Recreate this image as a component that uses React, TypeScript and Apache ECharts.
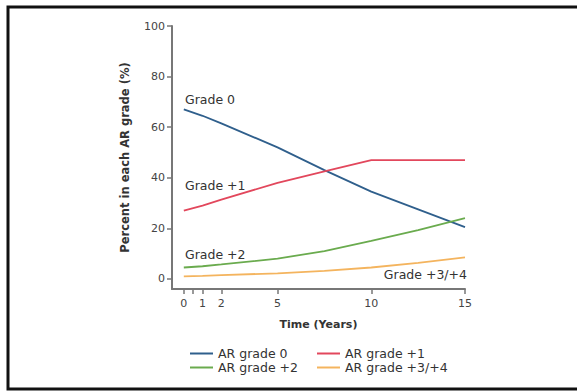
import React, { useEffect, useRef } from "react";
import * as echarts from "echarts";

const years = [0, 1, 2, 5, 7.5, 10, 12.5, 15];
const grade0 = [67, 64.5, 61.5, 52, 43, 34.5, 27.5, 20.5];
const grade1 = [27, 29, 31.3, 38, 42.5, 47, 47, 47];
const grade2 = [4.5, 5, 5.7, 8, 11, 15, 19.3, 24];
const grade34 = [1, 1.2, 1.5, 2.2, 3.2, 4.5, 6.3, 8.5];

const seriesNames = ["AR grade 0", "AR grade +1", "AR grade +2", "AR grade +3/+4"];
const seriesColors = ["#2f5f8c", "#e2475c", "#6aab4e", "#f4b45e"];
const curveLabels = ["Grade 0", "Grade +1", "Grade +2", "Grade +3/+4"];

const xTicks = [0, 0.5, 1, 2, 5, 10, 15];
const xTickLabels = [0, 1, 2, 5, 10, 15];
const yTicks = [0, 20, 40, 60, 80, 100];

const FONT = "DejaVu Sans";

export default function App() {
  const ref = useRef<HTMLDivElement>(null);
  useEffect(() => {
    if (!ref.current) return;
    const chart = echarts.init(ref.current, null, { renderer: "svg" });
    const values = [grade0, grade1, grade2, grade34];
    const legendPos = [
      { left: 190, top: 347 },
      { left: 317, top: 347 },
      { left: 190, top: 361 },
      { left: 317, top: 361 },
    ];
    chart.setOption({
      animation: false,
      backgroundColor: "#ffffff",
      grid: { left: 172, right: 112, top: 26, bottom: 102, containLabel: false },
      xAxis: {
        type: "value",
        min: -0.63,
        max: 15,
        splitLine: { show: false },
        axisLine: { show: true, onZero: false, lineStyle: { color: "#777777", width: 2 } },
        axisTick: {
          show: true,
          length: 5,
          customValues: xTicks,
          lineStyle: { color: "#777777", width: 1.5 },
        },
        axisLabel: {
          customValues: xTickLabels,
          margin: 9,
          color: "#444444",
          fontFamily: FONT,
          fontSize: 11,
        },
        name: "Time (Years)",
        nameLocation: "middle",
        nameGap: 30,
        nameTextStyle: { color: "#333333", fontFamily: FONT, fontSize: 11, fontWeight: "bold" },
      },
      yAxis: {
        type: "value",
        min: -4,
        max: 100,
        splitLine: { show: false },
        axisLine: { show: true, onZero: false, lineStyle: { color: "#777777", width: 2 } },
        axisTick: {
          show: true,
          length: 5,
          customValues: yTicks,
          lineStyle: { color: "#777777", width: 1.5 },
        },
        axisLabel: {
          customValues: yTicks,
          margin: 7,
          color: "#444444",
          fontFamily: FONT,
          fontSize: 11,
        },
        name: "Percent in each AR grade (%)",
        nameLocation: "middle",
        nameGap: 41,
        nameTextStyle: { color: "#333333", fontFamily: FONT, fontSize: 11.5, fontWeight: "bold" },
      },
      legend: seriesNames.map((n, i) => ({
        data: [n],
        left: legendPos[i].left,
        top: legendPos[i].top,
        padding: 0,
        icon: "rect",
        itemWidth: 23,
        itemHeight: 2,
        itemGap: 5,
        textStyle: { color: "#333333", fontFamily: FONT, fontSize: 12.5 },
      })),
      series: seriesNames.map((n, i) => ({
        name: n,
        type: "line",
        data: years.map((y, j) => [y, values[i][j]]),
        symbol: "none",
        smooth: false,
        lineStyle: { color: seriesColors[i], width: 1.8 },
        itemStyle: { color: seriesColors[i] },
      })),
      graphic: [
        {
          type: "rect",
          shape: { x: 8, y: 7, width: 580, height: 382 },
          style: { fill: "none", stroke: "#111111", lineWidth: 3 },
          silent: true,
        },
        {
          type: "text",
          x: 185,
          y: 99,
          style: { text: curveLabels[0], fill: "#333333", font: `12.5px "${FONT}"`, verticalAlign: "middle", align: "left" },
        },
        {
          type: "text",
          x: 185,
          y: 185,
          style: { text: curveLabels[1], fill: "#333333", font: `12.5px "${FONT}"`, verticalAlign: "middle", align: "left" },
        },
        {
          type: "text",
          x: 185,
          y: 254,
          style: { text: curveLabels[2], fill: "#333333", font: `12.5px "${FONT}"`, verticalAlign: "middle", align: "left" },
        },
        {
          type: "text",
          x: 467,
          y: 274,
          style: { text: curveLabels[3], fill: "#333333", font: `12.5px "${FONT}"`, verticalAlign: "middle", align: "right" },
        },
      ],
    });
    return () => chart.dispose();
  }, []);
  return (
    <div
      ref={ref}
      style={{ position: "fixed", left: 0, top: 0, width: 577, height: 391, background: "#fff" }}
    />
  );
}
